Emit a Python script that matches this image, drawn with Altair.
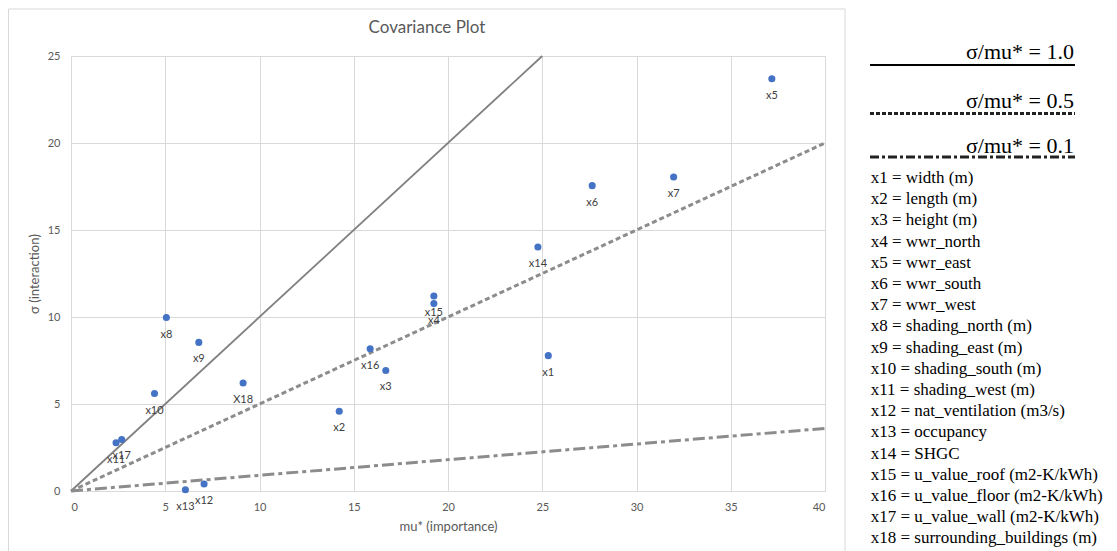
import altair as alt
import pandas as pd

# ---- data ----
params = ["x1", "x2", "x3", "x4", "x5", "x6", "x7", "x8", "x9", "x10",
          "x11", "x12", "x13", "x14", "x15", "x16", "x17", "x18"]
point_labels = ["x1", "x2", "x3", "x4", "x5", "x6", "x7", "x8", "x9", "x10",
                "x11", "x12", "x13", "x14", "x15", "x16", "x17", "X18"]
mu_star = [25.32, 14.23, 16.70, 19.25, 37.18, 27.65, 31.97, 5.06, 6.78, 4.43,
           2.39, 7.06, 6.07, 24.77, 19.25, 15.87, 2.69, 9.13]
sigma = [7.78, 4.58, 6.93, 10.77, 23.69, 17.55, 18.05, 9.97, 8.54, 5.60,
         2.77, 0.40, 0.07, 14.02, 11.21, 8.18, 2.96, 6.21]

ratio_names = ["σ/mu* = 1.0", "σ/mu* = 0.5", "σ/mu* = 0.1"]
ratio_x_end = [25, 40, 40]
ratio_y_end = [25, 20, 3.6]

legend_items = [
    "x1 = width (m)", "x2 = length (m)", "x3 = height (m)", "x4 = wwr_north",
    "x5 = wwr_east", "x6 = wwr_south", "x7 = wwr_west",
    "x8 = shading_north (m)", "x9 = shading_east (m)",
    "x10 = shading_south (m)", "x11 = shading_west (m)",
    "x12 = nat_ventilation (m3/s)", "x13 = occupancy", "x14 = SHGC",
    "x15 = u_value_roof (m2-K/kWh)", "x16 = u_value_floor (m2-K/kWh)",
    "x17 = u_value_wall (m2-K/kWh)", "x18 = surrounding_buildings (m)",
]

x_ticks = [0, 5, 10, 15, 20, 25, 30, 35, 40]
y_ticks = [0, 5, 10, 15, 20, 25]

# ---- tables ----
pts = pd.DataFrame({"param": params, "label": point_labels,
                    "mu": mu_star, "sigma": sigma})
lines_rows = []
for name, xe, ye in zip(ratio_names, ratio_x_end, ratio_y_end):
    lines_rows.append({"ratio": name, "mu": 0, "sigma": 0})
    lines_rows.append({"ratio": name, "mu": xe, "sigma": ye})
ref = pd.DataFrame(lines_rows)
one = pd.DataFrame({"k": [0]})

FONT = "Lato"
GRAY = "#595959"

xenc = alt.X("mu:Q", scale=alt.Scale(domain=[0, 40], nice=False),
             axis=alt.Axis(title="mu* (importance)", values=x_ticks, grid=True,
                           gridColor="#d9d9d9", domain=False, ticks=False,
                           labelPadding=10, labelFontSize=11, labelColor=GRAY,
                           labelFont=FONT, titleFont=FONT, titleFontSize=13,
                           titleFontWeight="normal", titleColor=GRAY,
                           titlePadding=8))
yenc = alt.Y("sigma:Q", scale=alt.Scale(domain=[0, 25], nice=False),
             axis=alt.Axis(title="σ (interaction)", values=y_ticks, grid=True,
                           gridColor="#d9d9d9", domain=False, ticks=False,
                           labelPadding=11, labelFontSize=11, labelColor=GRAY,
                           labelFont=FONT, titleFont=FONT, titleFontSize=13,
                           titleFontWeight="normal", titleColor=GRAY,
                           titlePadding=6))

base_ref = alt.Chart(ref)
line1 = base_ref.transform_filter(alt.datum.ratio == ratio_names[0]).mark_line(
    color="#808080", strokeWidth=1.8).encode(x=xenc, y=yenc)
line2 = base_ref.transform_filter(alt.datum.ratio == ratio_names[1]).mark_line(
    color="#8c8c8c", strokeWidth=3, strokeDash=[5, 3]).encode(x=xenc, y=yenc)
line3 = base_ref.transform_filter(alt.datum.ratio == ratio_names[2]).mark_line(
    color="#8c8c8c", strokeWidth=3, strokeDash=[12, 4, 4, 4]).encode(x=xenc, y=yenc)

points = alt.Chart(pts).mark_point(filled=True, color="#4472C4", size=50,
                                   opacity=1).encode(x=xenc, y=yenc)
labels = alt.Chart(pts).mark_text(dy=17, fontSize=11, color="#404040",
                                  font=FONT).encode(x=xenc, y=yenc, text="label:N")

# ---- decorations (frame, title, legend) ----
frame = alt.Chart(one).mark_rect(fill=None, stroke="#d9d9d9", strokeWidth=1).encode(
    x=alt.value(-62.5), x2=alt.value(774), y=alt.value(-47), y2=alt.value(560))

title = alt.Chart(one).mark_text(text="Covariance Plot", fontSize=17, font=FONT,
                                 color=GRAY, baseline="middle", align="center").encode(
    x=alt.value(356), y=alt.value(-28))

leg_font = "Liberation Serif"
leg_t1 = alt.Chart(one).mark_text(text=ratio_names[0], fontSize=22, font=leg_font,
                                  align="right", baseline="alphabetic", color="black").encode(
    x=alt.value(1003), y=alt.value(3))
leg_l1 = alt.Chart(one).mark_rule(color="black", strokeWidth=2).encode(
    x=alt.value(799), x2=alt.value(1004), y=alt.value(9))
leg_t2 = alt.Chart(one).mark_text(text=ratio_names[1], fontSize=22, font=leg_font,
                                  align="right", baseline="alphabetic", color="black").encode(
    x=alt.value(1003), y=alt.value(52))
leg_l2 = alt.Chart(one).mark_rule(color="#222222", strokeWidth=3, strokeDash=[4, 2]).encode(
    x=alt.value(799), x2=alt.value(1004), y=alt.value(57.5))
leg_t3 = alt.Chart(one).mark_text(text=ratio_names[2], fontSize=22, font=leg_font,
                                  align="right", baseline="alphabetic", color="black").encode(
    x=alt.value(1003), y=alt.value(97))
leg_l3 = alt.Chart(one).mark_rule(color="#222222", strokeWidth=3,
                                  strokeDash=[9, 3, 3, 3]).encode(
    x=alt.value(799), x2=alt.value(1004), y=alt.value(101))
leg_list = alt.Chart(one).mark_text(text=legend_items, fontSize=17, font=leg_font,
                                    align="left", baseline="middle", lineHeight=21.2,
                                    color="black").encode(
    x=alt.value(799.7), y=alt.value(122))

chart = alt.layer(
    frame, line1, line2, line3, points, labels, title,
    leg_t1, leg_l1, leg_t2, leg_l2, leg_t3, leg_l3, leg_list,
).properties(
    width=754, height=435,
    autosize=alt.AutoSizeParams(type="none"),
    padding={"left": 63, "top": 48, "right": 280, "bottom": 61},
).configure_view(stroke=None).configure(background="white")

chart.save("out.html", embed_options={"renderer": "svg", "actions": False})
